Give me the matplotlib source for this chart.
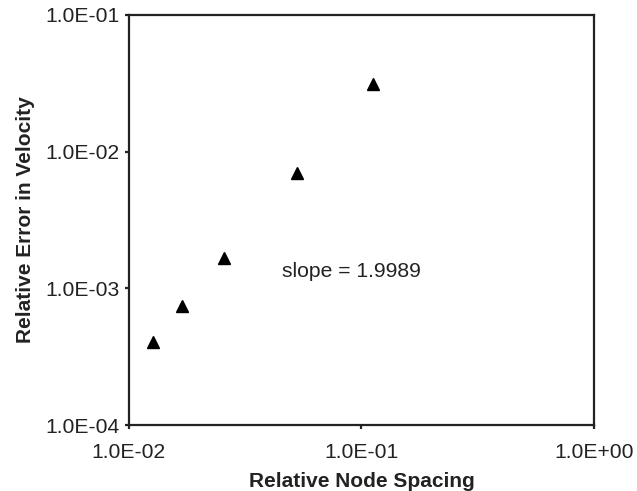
import numpy as np
import matplotlib.pyplot as plt
from matplotlib.ticker import FuncFormatter, FixedLocator, NullLocator

# data
node_spacing = [0.01265, 0.0169, 0.0257, 0.0526, 0.1117]
velocity_error = [4.07e-4, 7.43e-4, 1.67e-3, 7.03e-3, 3.11e-2]
slope_text = "slope = 1.9989"
x_ticks = [1e-2, 1e-1, 1e0]
y_ticks = [1e-4, 1e-3, 1e-2, 1e-1]

plt.rcParams['font.family'] = ['Liberation Sans', 'DejaVu Sans']


def sci_fmt(v, pos):
    # Excel style: 1.0E-02
    e = int(np.round(np.log10(v)))
    sign = '-' if e < 0 else '+'
    return "1.0E%s%02d" % (sign, abs(e))


fig = plt.figure(figsize=(6.37, 4.91), dpi=100)
ax = fig.add_axes([0.2025, 0.1344, 0.73, 0.8351])

ax.plot(node_spacing, velocity_error, linestyle='none', marker='^',
        markersize=8, color='black')

ax.set_xscale('log')
ax.set_yscale('log')
ax.set_xlim(1e-2, 1e0)
ax.set_ylim(1e-4, 1e-1)

ax.xaxis.set_major_locator(FixedLocator(x_ticks))
ax.yaxis.set_major_locator(FixedLocator(y_ticks))
ax.xaxis.set_minor_locator(NullLocator())
ax.yaxis.set_minor_locator(NullLocator())
ax.xaxis.set_major_formatter(FuncFormatter(sci_fmt))
ax.yaxis.set_major_formatter(FuncFormatter(sci_fmt))

ax.tick_params(axis='both', direction='out', length=3, width=1.6,
               labelsize=15.2, colors='#222222')
ax.tick_params(axis='y', pad=4)
ax.tick_params(axis='x', pad=10)

for sp in ax.spines.values():
    sp.set_linewidth(1.6)
    sp.set_color('#222222')

ax.text(0.0455, 1.32e-3, slope_text, fontsize=15.2, va='center', ha='left',
        color='#222222')

ax.set_xlabel("Relative Node Spacing", fontsize=15, fontweight='bold',
              labelpad=7, color='#222222')
ax.set_ylabel("Relative Error in Velocity", fontsize=15, fontweight='bold',
              labelpad=7, color='#222222')

fig.savefig('out.png', dpi=100)
